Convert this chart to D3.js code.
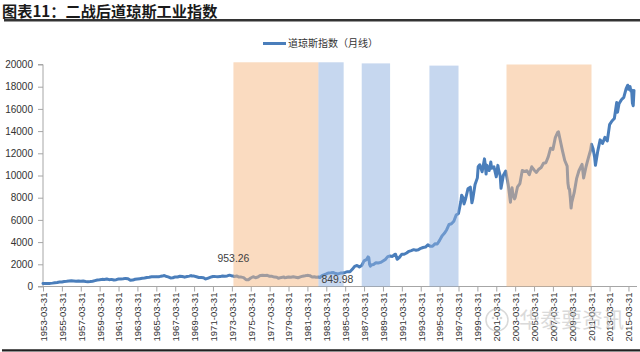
<!DOCTYPE html>
<html>
<head>
<meta charset="utf-8">
<script src="https://cdn.jsdelivr.net/npm/d3@7"></script>
<style>
html,body{margin:0;padding:0;background:#fff;}
svg{display:block;}
</style>
</head>
<body>
<svg id="chart" width="640" height="352"></svg>
<script>
// ---------------- DATA ----------------
const chartTitle = "图表11：二战后道琼斯工业指数";
const seriesName = "道琼斯指数（月线）";

// Dow Jones Industrial Average, monthly closes (selected months)
const dowSeries = [
["1953-03",280],["1953-06",268],["1953-09",264],["1953-12",281],
["1954-03",304],["1954-06",334],["1954-09",361],["1954-12",404],
["1955-03",410],["1955-06",451],["1955-09",467],["1955-12",488],
["1956-03",511],["1956-06",493],["1956-09",475],["1956-12",500],
["1957-03",475],["1957-06",503],["1957-09",456],["1957-12",436],
["1958-03",447],["1958-06",478],["1958-09",532],["1958-12",584],
["1959-03",602],["1959-06",644],["1959-09",632],["1959-12",679],
["1960-03",616],["1960-06",641],["1960-09",580],["1960-12",616],
["1961-03",676],["1961-06",684],["1961-09",701],["1961-12",731],
["1962-03",706],["1962-06",561],["1962-09",579],["1962-12",652],
["1963-03",683],["1963-06",707],["1963-09",733],["1963-12",763],
["1964-03",813],["1964-06",831],["1964-09",875],["1964-12",874],
["1965-03",890],["1965-06",868],["1965-09",931],["1965-12",969],
["1966-01",984],["1966-03",924],["1966-06",870],["1966-09",774],["1966-12",786],
["1967-03",866],["1967-06",860],["1967-09",927],["1967-12",905],
["1968-03",840],["1968-06",898],["1968-09",936],["1968-11",985],["1968-12",944],
["1969-03",935],["1969-06",873],["1969-09",813],["1969-12",800],
["1970-03",786],["1970-05",700],["1970-06",683],["1970-09",761],["1970-12",839],
["1971-03",904],["1971-06",891],["1971-09",887],["1971-12",890],
["1972-03",940],["1972-06",929],["1972-09",953],["1972-12",1020],
["1973-01",999],["1973-03",951],["1973-05",953.26],["1973-06",891],["1973-09",947],["1973-12",851],
["1974-03",847],["1974-06",802],["1974-09",608],["1974-12",616],
["1975-03",768],["1975-06",879],["1975-09",794],["1975-12",852],
["1976-03",999],["1976-06",1003],["1976-09",990],["1976-12",1005],
["1977-03",919],["1977-06",916],["1977-09",847],["1977-12",831],
["1978-02",742],["1978-06",819],["1978-09",865],["1978-10",793],["1978-12",805],
["1979-03",862],["1979-06",842],["1979-09",878],["1979-12",839],
["1980-03",786],["1980-06",868],["1980-09",932],["1980-12",964],
["1981-03",1004],["1981-06",977],["1981-09",850],["1981-12",875],
["1982-02",824],["1982-05",849.98],["1982-07",809],["1982-08",901],["1982-10",992],["1982-12",1047],
["1983-03",1130],["1983-06",1222],["1983-09",1233],["1983-12",1259],
["1984-03",1165],["1984-06",1132],["1984-09",1207],["1984-12",1212],
["1985-03",1267],["1985-06",1336],["1985-09",1329],["1985-12",1547],
["1986-03",1819],["1986-06",1893],["1986-09",1768],["1986-12",1896],
["1987-03",2305],["1987-06",2419],["1987-08",2663],["1987-09",2596],["1987-10",1994],["1987-11",1834],["1987-12",1939],
["1988-03",1989],["1988-06",2142],["1988-09",2113],["1988-12",2169],
["1989-03",2293],["1989-06",2440],["1989-09",2693],["1989-12",2753],
["1990-03",2707],["1990-06",2881],["1990-07",2905],["1990-09",2453],["1990-12",2634],
["1991-03",2914],["1991-06",2907],["1991-09",3017],["1991-12",3169],
["1992-03",3236],["1992-06",3319],["1992-09",3272],["1992-12",3301],
["1993-03",3436],["1993-06",3516],["1993-09",3555],["1993-12",3754],
["1994-03",3636],["1994-06",3625],["1994-09",3843],["1994-12",3834],
["1995-03",4158],["1995-06",4556],["1995-09",4789],["1995-12",5117],
["1996-03",5587],["1996-06",5655],["1996-09",5882],["1996-12",6448],
["1997-03",6584],["1997-06",7673],["1997-07",8223],["1997-09",7945],["1997-10",7442],["1997-12",7908],
["1998-03",8800],["1998-06",8952],["1998-08",7539],["1998-09",7843],["1998-12",9181],
["1999-03",9786],["1999-04",10789],["1999-06",10971],["1999-09",10337],["1999-12",11497],
["2000-01",10941],["2000-02",10128],["2000-03",10922],["2000-06",10448],["2000-08",11215],["2000-09",10651],["2000-12",10788],
["2001-03",9879],["2001-05",10912],["2001-06",10502],["2001-08",9950],["2001-09",8848],["2001-12",10022],
["2002-03",10404],["2002-06",9243],["2002-07",8737],["2002-09",7592],["2002-10",8397],["2002-11",8896],["2002-12",8342],
["2003-02",7891],["2003-03",7992],["2003-06",8985],["2003-09",9275],["2003-12",10454],
["2004-03",10358],["2004-06",10435],["2004-09",10080],["2004-12",10783],
["2005-03",10504],["2005-06",10275],["2005-09",10569],["2005-12",10718],
["2006-03",11109],["2006-06",11150],["2006-09",11679],["2006-12",12463],
["2007-03",12354],["2007-06",13409],["2007-09",13896],["2007-10",13930],["2007-12",13265],
["2008-03",12263],["2008-06",11350],["2008-09",10851],["2008-10",9325],["2008-11",8829],["2008-12",8776],
["2009-01",8001],["2009-02",7063],["2009-03",7609],["2009-06",8447],["2009-09",9712],["2009-12",10428],
["2010-03",10857],["2010-04",11009],["2010-06",9774],["2010-09",10788],["2010-12",11578],
["2011-03",12320],["2011-04",12811],["2011-06",12414],["2011-08",11614],["2011-09",10913],["2011-12",12218],
["2012-03",13212],["2012-06",12880],["2012-09",13437],["2012-12",13104],
["2013-03",14579],["2013-06",14910],["2013-09",15130],["2013-12",16577],
["2014-01",15699],["2014-03",16458],["2014-06",16827],["2014-09",17043],["2014-12",17823],
["2015-02",18133],["2015-03",17776],["2015-05",18011],["2015-06",17620],["2015-07",17690],["2015-08",16528],["2015-09",16285],["2015-10",17664]
];

// shaded periods: [start, end, kind, height value]
const periodStarts  = ["1973-05","1982-05","1986-12","1994-02","2002-04"];
const periodEnds    = ["1982-05","1985-01","1989-12","1997-03","2011-04"];
const periodKinds   = ["orange","blue","blue","blue","orange"];
const periodHeights = [20200,20200,20100,19900,20000];

// data labels
const labelDates  = ["1973-05","1982-05"];
const labelValues = ["953.26","849.98"];

const yTicks = [0,2000,4000,6000,8000,10000,12000,14000,16000,18000,20000];
const xTickLabels = ["1953-03-31","1955-03-31","1957-03-31","1959-03-31","1961-03-31","1963-03-31",
"1965-03-31","1967-03-31","1969-03-31","1971-03-31","1973-03-31","1975-03-31","1977-03-31",
"1979-03-31","1981-03-31","1983-03-31","1985-03-31","1987-03-31","1989-03-31","1991-03-31",
"1993-03-31","1995-03-31","1997-03-31","1999-03-31","2001-03-31","2003-03-31","2005-03-31",
"2007-03-31","2009-03-31","2011-03-31","2013-03-31","2015-03-31"];

// ---------------- DRAW ----------------
const svg = d3.select("#chart");
const parseM = d3.timeParse("%Y-%m");
const data = dowSeries.map(d => ({date: parseM(d[0]), value: d[1]}));

const x = d3.scaleTime()
  .domain([parseM("1953-03"), parseM("2015-10")])
  .range([43, 634]);
const y = d3.scaleLinear().domain([0, 20000]).range([286.5, 64.5]);

const numFont = "'Liberation Sans', Arial, sans-serif";
const cjkFont = "'Noto Sans CJK SC', 'Noto Sans', sans-serif";

// title
svg.append("text").attr("x", 2).attr("y", 16.5)
  .attr("font-family", cjkFont).attr("font-weight", "bold").attr("font-size", 15.2)
  .attr("fill", "#1a1a1a").text(chartTitle);
svg.append("line").attr("x1", 4).attr("x2", 640).attr("y1", 20.3).attr("y2", 20.3)
  .attr("stroke", "#333").attr("stroke-width", 2.5);
svg.append("line").attr("x1", 2).attr("x2", 640).attr("y1", 350.3).attr("y2", 350.3)
  .attr("stroke", "#222").attr("stroke-width", 2.2);

// legend
svg.append("line").attr("x1", 263).attr("x2", 286).attr("y1", 43.5).attr("y2", 43.5)
  .attr("stroke", "#4A7EBB").attr("stroke-width", 3);
svg.append("text").attr("x", 288).attr("y", 47.3)
  .attr("font-family", cjkFont).attr("font-size", 10).attr("fill", "#333").text(seriesName);

// y axis
const yAxis = d3.axisLeft(y).tickValues(yTicks).tickSize(5).tickPadding(5).tickFormat(d3.format("d"));
const gy = svg.append("g").attr("transform", "translate(43,0)").call(yAxis);
gy.select(".domain").attr("stroke", "#a6a6a6").attr("d", "M-5,64.5H0V286.5H-5");
gy.selectAll(".tick line").attr("stroke", "#a6a6a6");
gy.selectAll(".tick text").attr("font-family", numFont).attr("font-size", 10).attr("fill", "#333");

// x axis
const xTickDates = xTickLabels.map(s => parseM(s.slice(0,7)));
const xAxis = d3.axisBottom(x).tickValues(xTickDates).tickSize(5).tickFormat((d,i) => xTickLabels[i]);
const gx = svg.append("g").attr("transform", "translate(0,286.5)").call(xAxis);
gx.select(".domain").attr("stroke", "#a6a6a6").attr("d", "M43,0H637");
gx.selectAll(".tick line").attr("stroke", "#a6a6a6");
gx.selectAll(".tick text")
  .attr("font-family", numFont).attr("font-size", 9.6).attr("fill", "#333")
  .attr("text-anchor", "end")
  .attr("transform", "translate(0,6) rotate(-90)")
  .attr("x", 0).attr("y", 0).attr("dy", "0.35em");

// line
const line = d3.line().x(d => x(d.date)).y(d => y(d.value));
svg.append("path").datum(data).attr("d", line)
  .attr("fill", "none").attr("stroke", "#4A7EBB").attr("stroke-width", 3)
  .attr("stroke-linejoin", "round").attr("stroke-linecap", "round");

// shaded periods (semi-transparent overlay)
const fillFor = {orange: "#F5B781", blue: "#8DAFDF"};
const periods = periodStarts.map((s, i) => ({s: parseM(s), e: parseM(periodEnds[i]), k: periodKinds[i], h: periodHeights[i]}));
svg.append("g").selectAll("rect").data(periods).join("rect")
  .attr("x", d => x(d.s)).attr("width", d => x(d.e) - x(d.s))
  .attr("y", d => y(d.h)).attr("height", d => y(0) - y(d.h))
  .attr("fill", d => fillFor[d.k]).attr("opacity", 0.5);

// data labels
svg.append("text").attr("x", x(parseM(labelDates[0]))).attr("y", 261.5)
  .attr("text-anchor", "middle").attr("font-family", numFont).attr("font-size", 10.4)
  .attr("fill", "#404040").text(labelValues[0]);
svg.append("text").attr("x", x(parseM(labelDates[1])) + 3).attr("y", 282.5)
  .attr("text-anchor", "start").attr("font-family", numFont).attr("font-size", 10.4)
  .attr("fill", "#404040").text(labelValues[1]);

// watermark
const wm = svg.append("g").attr("opacity", 0.55);
wm.append("circle").attr("cx", 497).attr("cy", 320).attr("r", 11)
  .attr("fill", "none").attr("stroke", "#bbb").attr("stroke-width", 1.5);
wm.append("circle").attr("cx", 493).attr("cy", 318).attr("r", 1.3).attr("fill", "#bbb");
wm.append("circle").attr("cx", 501).attr("cy", 318).attr("r", 1.3).attr("fill", "#bbb");
wm.append("text").attr("x", 519).attr("y", 326.5)
  .attr("font-family", cjkFont).attr("font-size", 21).attr("fill", "#bdbdbd").text("华泰要资讯");
</script>
</body>
</html>
